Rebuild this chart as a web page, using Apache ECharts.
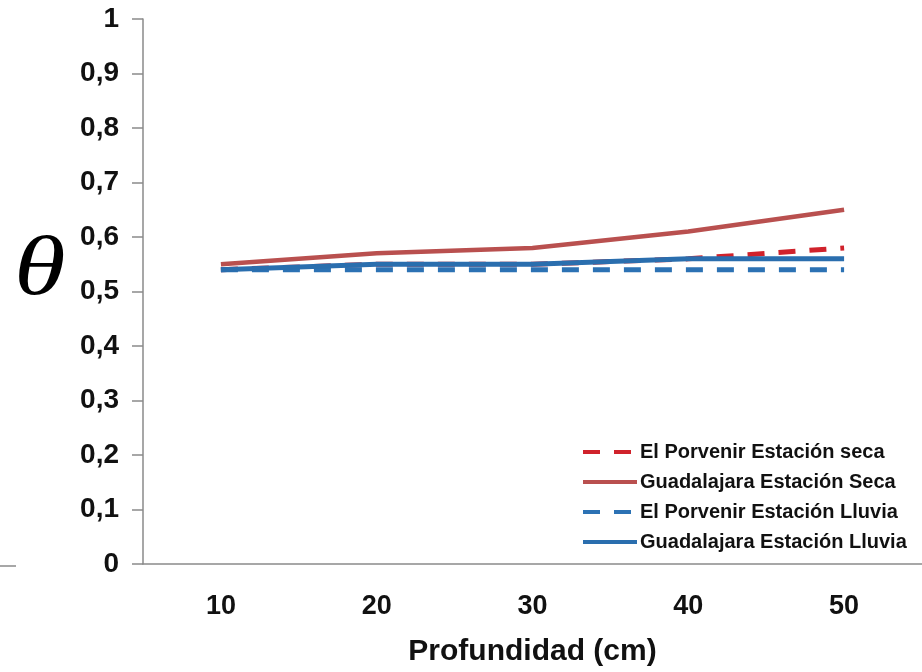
<!DOCTYPE html>
<html>
<head>
<meta charset="utf-8">
<script src="https://cdn.jsdelivr.net/npm/echarts@6/dist/echarts.min.js"></script>
<style>
html,body{margin:0;padding:0;background:#fff;}
#chart{width:922px;height:672px;}
</style>
</head>
<body>
<div id="chart"></div>
<script>
const categories = ['10', '20', '30', '40', '50'];
const porvenirSeca = [0.54, 0.55, 0.55, 0.56, 0.58];
const guadalajaraSeca = [0.55, 0.57, 0.58, 0.61, 0.65];
const porvenirLluvia = [0.54, 0.54, 0.54, 0.54, 0.54];
const guadalajaraLluvia = [0.54, 0.55, 0.55, 0.56, 0.56];
const seriesNames = ['El Porvenir Estación seca', 'Guadalajara Estación Seca', 'El Porvenir Estación Lluvia', 'Guadalajara Estación Lluvia'];
const xTitle = 'Profundidad (cm)';
const yTitle = 'θ';

const chart = echarts.init(document.getElementById('chart'), null, {renderer: 'canvas'});
const font = 'Liberation Sans, Arial, sans-serif';
function mk(name, data, color, type, width) {
  return {
    name: name, type: 'line', data: data, symbol: 'none', smooth: false,
    lineStyle: {color: color, width: width, type: type},
    itemStyle: {color: color},
    emphasis: {disabled: true}
  };
}
chart.setOption({
  animation: false,
  backgroundColor: '#fff',
  grid: {left: 143, top: 19, width: 782, bottom: 106, containLabel: false},
  legend: {
    orient: 'vertical', left: 576, top: 437,
    itemWidth: 54, itemHeight: 12, itemGap: 10,
    itemStyle: {opacity: 0},
    lineStyle: {width: 4},
    textStyle: {fontFamily: font, fontWeight: 'bold', fontSize: 20, color: '#111', padding: [0, 0, 0, -2]},
    data: seriesNames
  },
  xAxis: {
    type: 'category', data: categories, boundaryGap: true,
    axisLine: {lineStyle: {color: '#8a8a8a', width: 1.5}},
    axisTick: {show: false},
    axisLabel: {fontFamily: font, fontWeight: 'bold', fontSize: 27, color: '#111', margin: 29},
    name: xTitle, nameLocation: 'middle', nameGap: 73,
    nameTextStyle: {fontFamily: font, fontWeight: 'bold', fontSize: 30, color: '#111'}
  },
  yAxis: {
    type: 'value', min: 0, max: 1, interval: 0.1,
    axisLine: {show: true, lineStyle: {color: '#8a8a8a', width: 1.5}},
    axisTick: {show: true, length: 11, lineStyle: {color: '#8a8a8a', width: 1.5}},
    splitLine: {show: false},
    axisLabel: {
      fontFamily: font, fontWeight: 'bold', fontSize: 28, color: '#111', margin: 24,
      formatter: function (v) { return (Math.round(v * 10) / 10).toString().replace('.', ','); }
    }
  },
  graphic: [
    {type: 'text', left: 14, top: 230, scaleX: 1.25, style: {text: yTitle, font: 'italic 84px "Liberation Serif", "DejaVu Serif", serif', fill: '#000'}},
    {type: 'line', shape: {x1: 0, y1: 566, x2: 16, y2: 566}, style: {stroke: '#8a8a8a', lineWidth: 1.5}}
  ],
  series: [
    mk(seriesNames[0], porvenirSeca, '#d0222b', [17, 14], 5),
    mk(seriesNames[1], guadalajaraSeca, '#b9504f', 'solid', 4.5),
    mk(seriesNames[2], porvenirLluvia, '#2c72b4', [17, 14], 5),
    mk(seriesNames[3], guadalajaraLluvia, '#2a6eae', 'solid', 5)
  ]
});
</script>
</body>
</html>
